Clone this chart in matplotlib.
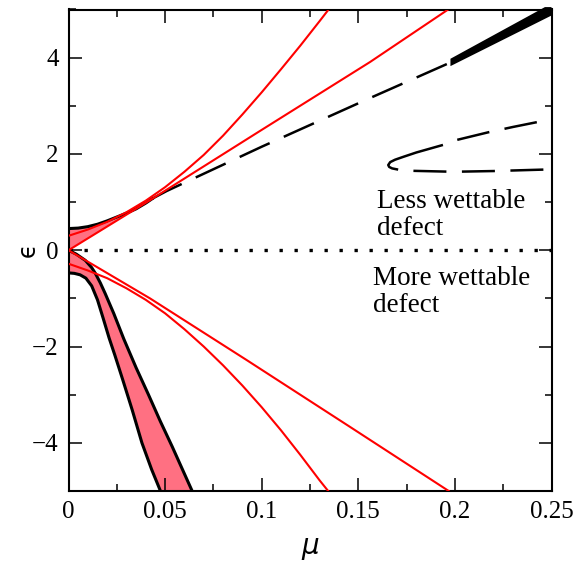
import matplotlib
matplotlib.use("Agg")
import matplotlib.pyplot as plt
from matplotlib.ticker import MultipleLocator, FuncFormatter

# ---------------- data ----------------
# upper solid black boundary (stable branch)
upper_mu  = [0.0, 0.005, 0.01, 0.015, 0.02, 0.025, 0.03, 0.035, 0.04, 0.0433]
upper_eps = [0.45, 0.46, 0.49, 0.54, 0.61, 0.69, 0.77, 0.86, 0.98, 1.07]

# dashed continuation (unstable branch)
dash_mu  = [0.0433, 0.0508, 0.1, 0.156, 0.1977]
dash_eps = [1.07, 1.23, 2.15, 3.16, 3.90]

# thick black band at the upper right
band_mu  = [0.1977, 0.1977, 0.2466, 0.25, 0.25]
band_eps = [3.824, 3.977, 5.05, 5.05, 4.875]

# lower outer black boundary
outer_mu  = [0.0, 0.003, 0.006, 0.009, 0.012, 0.015, 0.018, 0.021, 0.024, 0.028,
             0.033, 0.038, 0.043, 0.0476]
outer_eps = [-0.47, -0.48, -0.51, -0.58, -0.74, -1.03, -1.42, -1.82, -2.18, -2.68,
             -3.32, -4.0, -4.55, -5.0]

# lower inner black boundary
inner_mu  = [0.0, 0.004, 0.0087, 0.012, 0.0139, 0.0165, 0.019, 0.0234, 0.0286,
             0.035, 0.0414, 0.0475, 0.0537, 0.064]
inner_eps = [0.0, -0.08, -0.21, -0.36, -0.48, -0.68, -0.90, -1.31, -1.84,
             -2.44, -3.0, -3.55, -4.08, -5.0]

# red lines
red_a_mu  = [0.0, 0.0422, 0.1, 0.1561, 0.1965]
red_a_eps = [0.0, 1.04, 2.50, 3.91, 5.0]
red_b_mu  = [0.0, 0.01, 0.02, 0.03, 0.04, 0.05, 0.06, 0.07, 0.08, 0.09, 0.10,
             0.11, 0.12, 0.13, 0.135]
red_b_eps = [0.30, 0.43, 0.59, 0.79, 1.03, 1.31, 1.63, 1.98, 2.38, 2.82, 3.28,
             3.76, 4.25, 4.76, 5.02]
red_c_mu  = [0.0, 0.0422, 0.0922, 0.145, 0.1968]
red_c_eps = [0.0, -1.0, -2.28, -3.65, -5.0]
red_d_mu  = [0.0, 0.01, 0.02, 0.03, 0.04, 0.05, 0.06, 0.07, 0.08, 0.09, 0.10,
             0.11, 0.12, 0.13, 0.1348]
red_d_eps = [-0.28, -0.42, -0.58, -0.79, -1.03, -1.31, -1.64, -2.0, -2.39, -2.81,
             -3.26, -3.74, -4.25, -4.78, -5.02]

# dashed closed-nose branch on the right
nose_up_mu   = [0.2009, 0.2173, 0.2300, 0.2424]
nose_up_eps  = [2.29, 2.45, 2.56, 2.66]
nose_low_mu  = [0.1778, 0.1992, 0.2200, 0.2458]
nose_low_eps = [1.650, 1.630, 1.645, 1.675]
nose_tip_mu  = [0.1932, 0.1800, 0.1733, 0.1690, 0.1665, 0.1655, 0.1660, 0.1675, 0.1700]
nose_tip_eps = [2.18, 2.03, 1.94, 1.88, 1.83, 1.77, 1.73, 1.70, 1.68]

zero_mu  = [0.0, 0.25]
zero_eps = [0.0, 0.0]

x_ticks = [0, 0.05, 0.1, 0.15, 0.2, 0.25]
x_ticklabels = ["0", "0.05", "0.1", "0.15", "0.2", "0.25"]
y_ticks = [-4, -2, 0, 2, 4]
label_less = "Less wettable\ndefect"
label_more = "More wettable\ndefect"

# ---------------- figure ----------------
fig = plt.figure(figsize=(5.74, 5.62), dpi=100)
ax = fig.add_axes([68.5/574, 1 - 491/562, 483/574, 481.5/562])

PINK = "#ff7082"
RED = "#ff0000"

# pink region: along upper curve, back to origin, down inner curve, back up outer curve
n_up = 8  # upper curve points up to where it meets the red line
poly_mu = upper_mu[:n_up] + inner_mu + outer_mu[::-1]
poly_eps = upper_eps[:n_up] + inner_eps + outer_eps[::-1]
ax.fill(poly_mu, poly_eps, color=PINK, lw=0, zorder=1)

# dotted zero line
ax.plot(zero_mu, zero_eps, color="black", lw=2.4, dashes=(1, 3.5),
        solid_capstyle="butt", dash_capstyle="butt", zorder=2, clip_on=False)

# black curves
ax.plot(upper_mu, upper_eps, color="black", lw=2.2, zorder=3)
ax.plot(outer_mu, outer_eps, color="black", lw=2.2, zorder=3)
ax.plot(inner_mu, inner_eps, color="black", lw=2.2, zorder=3)
ax.plot(dash_mu, dash_eps, color="black", lw=1.8, dashes=(13.2, 6.2),
        dash_capstyle="butt", zorder=3)
ax.fill(band_mu, band_eps, color="black", lw=0, zorder=3, clip_on=False)

# nose curve
ax.plot(nose_up_mu[::-1], nose_up_eps[::-1], color="black", lw=1.8,
        dashes=(13.2, 6.2), dash_capstyle="butt", zorder=3)
ax.plot(nose_low_mu[::-1], nose_low_eps[::-1], color="black", lw=1.8,
        dashes=(13.2, 6.2), dash_capstyle="butt", zorder=3)
ax.plot(nose_tip_mu, nose_tip_eps, color="black", lw=1.8, zorder=3)

# red lines
for m, e in [(red_a_mu, red_a_eps), (red_b_mu, red_b_eps),
             (red_c_mu, red_c_eps), (red_d_mu, red_d_eps)]:
    ax.plot(m, e, color=RED, lw=1.5, zorder=4)

# annotations
ax.text(0.1598, 1.27, label_less, fontsize=19.5, family="Liberation Serif",
        ha="left", va="top", linespacing=1.1)
ax.text(0.1575, -0.33, label_more, fontsize=19.5, family="Liberation Serif",
        ha="left", va="top", linespacing=1.1)

ax.set_xlim(0, 0.25)
ax.set_ylim(-5, 5)
ax.set_xticks(x_ticks)
ax.set_xticklabels(x_ticklabels)
ax.set_yticks(y_ticks)
ax.yaxis.set_major_formatter(FuncFormatter(lambda v, p: ("\u2212%d" % -v) if v < 0 else "%d" % v))
ax.xaxis.set_minor_locator(MultipleLocator(0.025))
ax.yaxis.set_minor_locator(MultipleLocator(1))
ax.tick_params(which="both", direction="in", top=True, right=True, width=1.1)
ax.tick_params(which="major", length=9.5, pad=7)
ax.tick_params(which="minor", length=5)
for lab in ax.get_xticklabels() + ax.get_yticklabels():
    lab.set_family("Liberation Serif")
    lab.set_fontsize(18)
for s in ax.spines.values():
    s.set_linewidth(1.5)

ax.set_xlabel("$\\mu$", fontsize=20)
ax.xaxis.set_label_coords(0.5, -0.118)
ax.xaxis.label.set_va("center")
ax.set_ylabel("\u03f5", fontsize=17, family="DejaVu Sans", rotation=90)
ax.yaxis.set_label_coords(-0.084, 0.5)
ax.yaxis.label.set_va("center")

fig.savefig("out.png", dpi=100)
